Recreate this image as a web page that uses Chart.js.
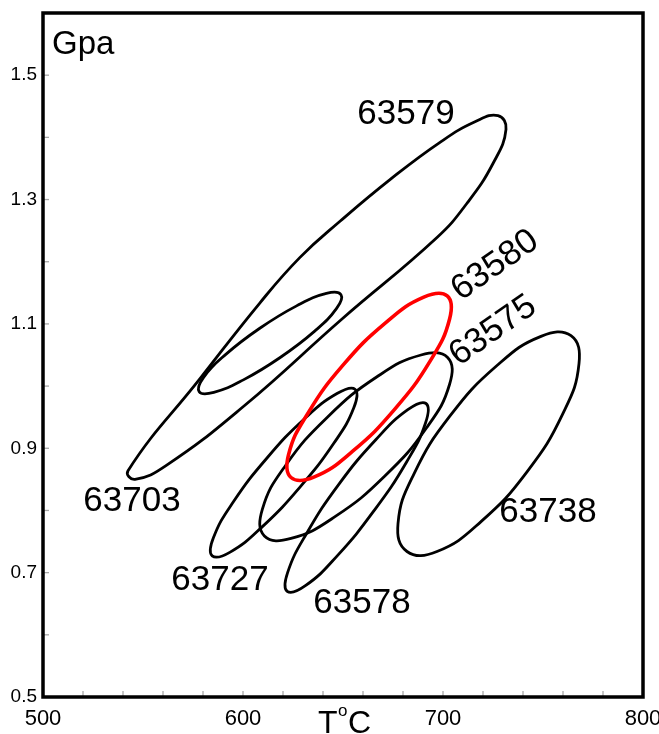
<!DOCTYPE html>
<html>
<head>
<meta charset="utf-8">
<script src="https://cdn.jsdelivr.net/npm/chart.js@4.4.0/dist/chart.umd.min.js"></script>
<style>
  html, body { margin: 0; padding: 0; background: #fff; }
  #wrap { width: 659px; height: 734px; }
</style>
</head>
<body>
<div id="wrap"><canvas id="pt-chart"></canvas></div>
<script>
// axis ticks
const xTickLabels = [500, 600, 700, 800];
const yTickLabels = [0.5, 0.7, 0.9, 1.1, 1.3, 1.5];

// samples, one closed P-T field each
const sampleNames = ["63579", "63703", "63580", "63575", "63727", "63578", "63738"];

// points traced around each field: temperature (°C) and pressure (GPa)
const t63579 = [727.5, 731.5, 725.0, 712.0, 697.0, 649.5, 600.5, 561.5, 546.0, 542.5, 578.5, 608.5, 628.5, 648.5, 673.5, 698.5, 716.0];
const p63579 = [1.435, 1.413, 1.358, 1.294, 1.239, 1.108, 0.968, 0.872, 0.850, 0.864, 1.012, 1.134, 1.207, 1.265, 1.332, 1.392, 1.425];

const t63703 = [649.0, 646.8, 635.7, 618.6, 600.2, 585.4, 578.1, 580.3, 591.4, 608.4, 626.8, 641.7];
const p63703 = [1.147, 1.125, 1.088, 1.046, 1.010, 0.990, 0.991, 1.014, 1.051, 1.093, 1.129, 1.149];

const t63580 = [702.1, 703.3, 693.7, 675.9, 654.7, 635.7, 624.0, 622.8, 632.4, 650.1, 671.4, 690.4];
const p63580 = [1.145, 1.108, 1.041, 0.963, 0.895, 0.854, 0.853, 0.890, 0.956, 1.034, 1.102, 1.143];

const t63575 = [702.3, 703.3, 691.8, 670.8, 646.0, 624.0, 610.7, 609.7, 621.2, 642.2, 667.0, 689.0];
const p63575 = [1.046, 1.003, 0.933, 0.855, 0.790, 0.755, 0.759, 0.802, 0.872, 0.950, 1.015, 1.050];

const t63727 = [656.0, 655.4, 645.4, 628.6, 609.7, 593.6, 584.6, 585.2, 595.2, 611.9, 630.9, 647.0];
const p63727 = [0.995, 0.965, 0.908, 0.838, 0.774, 0.733, 0.727, 0.756, 0.814, 0.884, 0.948, 0.988];

const t63578 = [691.5, 691.3, 681.8, 665.6, 647.1, 631.2, 622.1, 622.3, 631.8, 647.9, 666.5, 682.4];
const p63578 = [0.972, 0.941, 0.878, 0.800, 0.727, 0.679, 0.670, 0.700, 0.763, 0.842, 0.914, 0.962];

const t63738 = [764.0, 768.0, 760.0, 742.0, 719.0, 697.0, 682.0, 677.5, 685.5, 703.5, 727.0, 749.0];
const p63738 = [1.081, 1.036, 0.956, 0.862, 0.782, 0.734, 0.734, 0.779, 0.859, 0.952, 1.033, 1.080];

const sampleT = [t63579, t63703, t63580, t63575, t63727, t63578, t63738];
const sampleP = [p63579, p63703, p63580, p63575, p63727, p63578, p63738];

// where each sample name is written (T, P, rotation in degrees)
const labelT = [681.5, 544.5, 726.0, 725.0, 588.5, 659.5, 752.5];
const labelP = [1.437, 0.814, 1.194, 1.089, 0.688, 0.651, 0.797];
const labelRot = [0, 0, -35, -35, 0, 0, 0];

const highlight = "63580";

const datasets = sampleNames.map((name, i) => ({
  label: name,
  data: sampleT[i].map((t, j) => ({ x: t, y: sampleP[i][j] })),
  borderColor: name === highlight ? "#ff0000" : "#000000",
  borderWidth: name === highlight ? 3.6 : 2.8,
  tension: 0.45,
  fill: false,
  pointRadius: 0,
  pointHitRadius: 0,
}));

// join the last point back to the first with a smooth curve
const closeLoops = {
  id: "closeLoops",
  beforeDatasetsDraw(chart) {
    chart.data.datasets.forEach((ds, i) => {
      const line = chart.getDatasetMeta(i).dataset;
      if (!line) return;
      line._loop = true;
      line._fullLoop = true;
      line._pointsUpdated = false;
      delete line._segments;
      delete line._path;
    });
  },
};

const frameAndText = {
  id: "frameAndText",
  afterDatasetsDraw(chart) {
    const { ctx, chartArea: a, scales } = chart;
    const x = scales.x, y = scales.y;
    ctx.save();

    // small inward ticks
    ctx.strokeStyle = "#a8a8a8";
    ctx.lineWidth = 1.3;
    x.ticks.forEach((t) => {
      const px = x.getPixelForValue(t.value);
      ctx.beginPath();
      ctx.moveTo(px, a.bottom);
      ctx.lineTo(px, a.bottom - 6);
      ctx.stroke();
    });
    y.ticks.forEach((t) => {
      const py = y.getPixelForValue(t.value);
      ctx.beginPath();
      ctx.moveTo(a.left, py);
      ctx.lineTo(a.left + 6, py);
      ctx.stroke();
    });

    // frame
    ctx.strokeStyle = "#000";
    ctx.lineWidth = 3.5;
    ctx.strokeRect(a.left, a.top, a.right - a.left, a.bottom - a.top);

    // sample names
    ctx.fillStyle = "#000";
    ctx.font = "35px 'Liberation Sans', Arial, sans-serif";
    ctx.textAlign = "center";
    ctx.textBaseline = "middle";
    sampleNames.forEach((name, i) => {
      ctx.save();
      ctx.translate(x.getPixelForValue(labelT[i]), y.getPixelForValue(labelP[i]));
      ctx.rotate((labelRot[i] * Math.PI) / 180);
      ctx.fillText(name, 0, 0);
      ctx.restore();
    });

    // unit in the corner
    ctx.textAlign = "left";
    ctx.textBaseline = "alphabetic";
    ctx.font = "33px 'Liberation Sans', Arial, sans-serif";
    ctx.fillText("Gpa", a.left + 9, 54);

    // x axis title, T with a raised o and C
    ctx.font = "32px 'Liberation Sans Narrow', 'Liberation Sans', sans-serif";
    ctx.fillText("T", 318, 733);
    ctx.font = "17px 'Liberation Sans', sans-serif";
    ctx.fillText("o", 338, 716);
    ctx.font = "32px 'Liberation Sans Narrow', 'Liberation Sans', sans-serif";
    ctx.fillText("C", 348, 733);

    ctx.restore();
  },
};

const near = (v, list) => list.some((t) => Math.abs(t - v) < 1e-6);

new Chart(document.getElementById("pt-chart"), {
  type: "line",
  data: { datasets },
  options: {
    responsive: true,
    maintainAspectRatio: false,
    animation: false,
    events: [],
    layout: { padding: { top: 13, right: 16, left: 0, bottom: 0 } },
    plugins: { legend: { display: false }, tooltip: { enabled: false } },
    scales: {
      x: {
        type: "linear",
        min: 500,
        max: 800,
        afterFit(s) { s.height = 37; s.paddingLeft = 0; s.paddingRight = 0; },
        grid: { display: false, drawTicks: false },
        border: { display: false },
        ticks: {
          stepSize: 20,
          autoSkip: false,
          maxRotation: 0,
          padding: 9,
          color: "#000",
          font: { family: "'Liberation Sans Narrow', 'Liberation Sans', sans-serif", size: 22 },
          callback: (v) => (near(v, xTickLabels) ? String(v) : ""),
        },
      },
      y: {
        type: "linear",
        min: 0.5,
        max: 1.6,
        afterFit(s) { s.width = 43; s.paddingTop = 0; s.paddingBottom = 0; },
        grid: { display: false, drawTicks: false },
        border: { display: false },
        ticks: {
          stepSize: 0.1,
          autoSkip: false,
          padding: 6,
          color: "#000",
          font: { family: "'Liberation Sans', sans-serif", size: 19 },
          callback: (v) => (near(v, yTickLabels) ? v.toFixed(1) : ""),
        },
      },
    },
  },
  plugins: [closeLoops, frameAndText],
});
</script>
</body>
</html>
